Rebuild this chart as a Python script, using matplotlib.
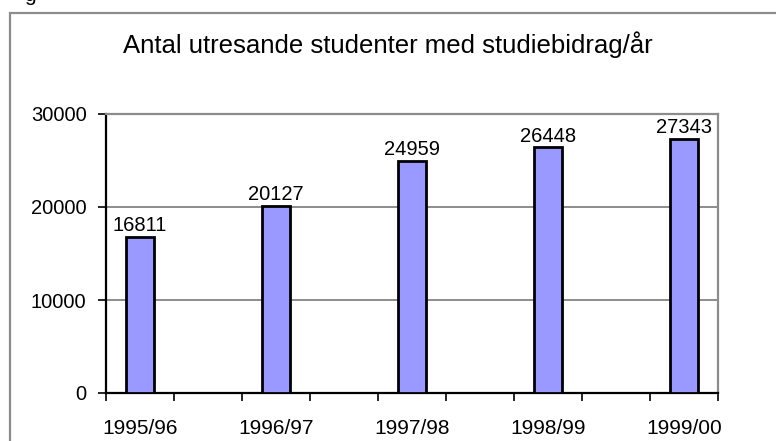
import matplotlib
matplotlib.use("Agg")
import matplotlib.pyplot as plt
from matplotlib.patches import Rectangle

title = "Antal utresande studenter med studiebidrag/år"
categories = ["1995/96", "", "1996/97", "", "1997/98", "", "1998/99", "", "1999/00"]
values = [16811, None, 20127, None, 24959, None, 26448, None, 27343]
yticks = [0, 10000, 20000, 30000]

plt.rcParams['font.family'] = ['Liberation Sans', 'DejaVu Sans']

W, H = 776, 441
fig = plt.figure(figsize=(W / 100, H / 100), dpi=100)

# outer frame
fig.patches.append(Rectangle((10 / W, -0.1), 1.2, (H - 13) / H + 0.1, transform=fig.transFigure,
                             fill=False, edgecolor='#8c8c8c', linewidth=1.6, zorder=0))
# cut-off text at the top
fig.text(24 / W, 1 - 1 / H, "g", fontsize=15, ha='left', va='baseline', color='black')

left, right, top, bottom = 106, 718, 114, 393
ax = fig.add_axes([left / W, 1 - bottom / H, (right - left) / W, (bottom - top) / H])

xs = list(range(len(categories)))
bx = [x for x, v in zip(xs, values) if v is not None]
bv = [v for v in values if v is not None]
ax.bar(bx, bv, width=0.4, color='#9999ff', edgecolor='black', linewidth=2, zorder=3)
for x, v in zip(bx, bv):
    ax.text(x, v + 150, str(v), ha='center', va='bottom', fontsize=14.5, zorder=4)

ax.set_xlim(-0.5, len(categories) - 0.5)
ax.set_ylim(0, 30000)
ax.set_yticks(yticks)
ax.set_yticklabels([str(t) for t in yticks], fontsize=14.5)
ax.set_xticks(bx)
ax.set_xticklabels([categories[i] for i in bx], fontsize=15)
ax.set_xticks([i - 0.5 for i in range(len(categories) + 1)], minor=True)
ax.tick_params(axis='x', which='major', length=0, pad=19)
ax.tick_params(axis='x', which='minor', length=6, width=1.2, color='black', direction='out')
ax.tick_params(axis='y', length=6, width=1.2, color='black', direction='out', pad=8)

for y in yticks[1:-1]:
    ax.axhline(y, color='#8c8c8c', linewidth=1.4, zorder=1)

ax.spines['left'].set_color('black')
ax.spines['left'].set_linewidth(1.6)
ax.spines['bottom'].set_color('black')
ax.spines['bottom'].set_linewidth(1.6)
ax.spines['top'].set_color('#8c8c8c')
ax.spines['top'].set_linewidth(1.6)
ax.spines['right'].set_color('#8c8c8c')
ax.spines['right'].set_linewidth(1.6)

fig.text(388 / W, 1 - 45 / H, title, ha='center', va='center', fontsize=18.5)

fig.savefig("out.png", dpi=100)
